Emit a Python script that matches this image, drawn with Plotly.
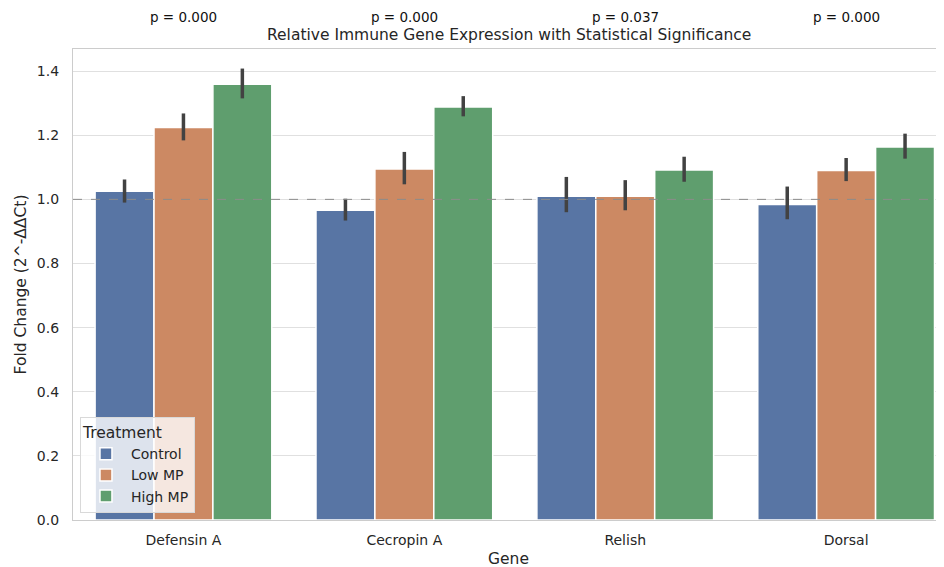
import plotly.graph_objects as go

genes = ["Defensin A", "Cecropin A", "Relish", "Dorsal"]
treatments = ["Control", "Low MP", "High MP"]
colors = ["#5875a4", "#cc8963", "#5f9e6e"]

# mean fold change per treatment (order matches genes)
means = {
    "Control": [1.025, 0.966, 1.010, 0.984],
    "Low MP":  [1.224, 1.095, 1.010, 1.090],
    "High MP": [1.359, 1.288, 1.092, 1.163],
}
ci_high = {
    "Control": [1.062, 1.002, 1.070, 1.040],
    "Low MP":  [1.268, 1.148, 1.060, 1.129],
    "High MP": [1.408, 1.322, 1.133, 1.205],
}
ci_low = {
    "Control": [0.990, 0.934, 0.960, 0.938],
    "Low MP":  [1.184, 1.047, 0.966, 1.057],
    "High MP": [1.315, 1.259, 1.055, 1.127],
}
p_values = ["p = 0.000", "p = 0.000", "p = 0.037", "p = 0.000"]
ref_value = 1.0

FONT = "DejaVu Sans"
TXT = "#262626"

fig = go.Figure()
for t, c in zip(treatments, colors):
    m = means[t]
    fig.add_trace(go.Bar(
        name=t, x=genes, y=m,
        marker=dict(color=c, line=dict(color="white", width=1.5)),
        error_y=dict(
            type="data", symmetric=False,
            array=[h - v for h, v in zip(ci_high[t], m)],
            arrayminus=[v - l for v, l in zip(m, ci_low[t])],
            color="#424242", thickness=3.5, width=0,
        ),
    ))

fig.add_shape(type="line", xref="paper", x0=0, x1=1, yref="y", y0=ref_value, y1=ref_value,
              line=dict(color="#8c8c8c", width=1, dash="dash"), layer="above")

annotations = []
for g, p in zip(genes, p_values):
    annotations.append(dict(x=g, xref="x", y=1.068, yref="paper", text=p, showarrow=False,
                            font=dict(family=FONT, size=13.5, color="#111111"),
                            xanchor="center", yanchor="middle"))
annotations.append(dict(x=0.5, xref="paper", y=1.03, yref="paper",
                        text="Relative Immune Gene Expression with Statistical Significance",
                        showarrow=False, font=dict(family=FONT, size=15.5, color=TXT),
                        xanchor="center", yanchor="middle"))

fig.update_layout(
    width=944, height=567,
    margin=dict(l=65, r=8, t=41, b=55, autoexpand=False),
    paper_bgcolor="white", plot_bgcolor="white",
    barmode="group", bargap=0.2, bargroupgap=0,
    font=dict(family=FONT, color=TXT, size=14),
    annotations=annotations,
    legend=dict(
        title=dict(text="Treatment", font=dict(size=15.5, color=TXT)),
        font=dict(size=14, color=TXT),
        x=0.008, y=0.015, xanchor="left", yanchor="bottom",
        bgcolor="rgba(255,255,255,0.8)", bordercolor="#d9d9d9", borderwidth=1,
        tracegroupgap=0, itemwidth=40,
    ),
    showlegend=True,
)
fig.update_xaxes(
    title=dict(text="Gene", font=dict(size=15.5, color=TXT), standoff=6),
    range=[-0.5, 3.443], showgrid=False,
    showline=True, linecolor="#cccccc", linewidth=1.2, mirror=True,
    ticks="outside", ticklen=7, tickcolor="rgba(0,0,0,0)", tickfont=dict(size=14, color=TXT),
)
fig.update_yaxes(
    title=dict(text="Fold Change (2^-ΔΔCt)", font=dict(size=15.5, color=TXT), standoff=6),
    range=[0, 1.469], tickvals=[0, 0.2, 0.4, 0.6, 0.8, 1.0, 1.2, 1.4], tickformat=".1f",
    showgrid=True, gridcolor="#e0e0e0", gridwidth=1.2,
    showline=True, linecolor="#cccccc", linewidth=1.2, mirror=True,
    zeroline=False, ticks="outside", ticklen=10, tickcolor="rgba(0,0,0,0)",
    tickfont=dict(size=14, color=TXT),
)

fig.write_html("out.html")
